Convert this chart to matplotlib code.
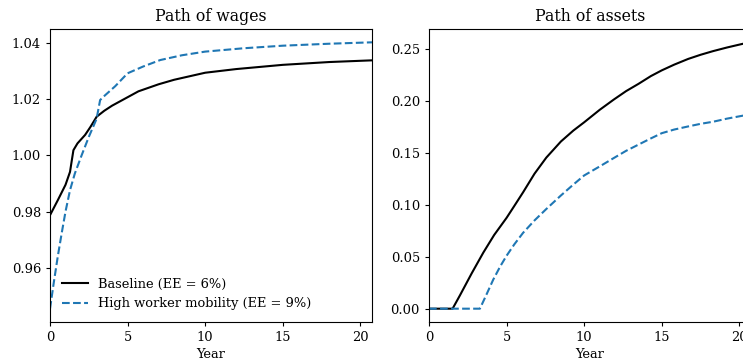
import matplotlib
matplotlib.use("Agg")
import matplotlib.pyplot as plt

plt.rcParams['font.family'] = 'DejaVu Serif'
plt.rcParams['font.size'] = 9.4
plt.rcParams['xtick.major.size'] = 3
plt.rcParams['ytick.major.size'] = 3

# Path of wages
wage_base_x = [0, 0.5, 1.0, 1.29, 1.4, 1.51, 1.77, 2.26, 2.6, 3.01, 3.5, 4.0, 4.5, 5.0, 5.7,
               7.0, 8.0, 10.0, 12.0, 15.0, 18.0, 20.75]
wage_base_y = [0.9787, 0.984, 0.9895, 0.9941, 0.998, 1.0018, 1.0042, 1.0072, 1.0100, 1.0137,
               1.0158, 1.0176, 1.0191, 1.0206, 1.0227, 1.0252, 1.0268, 1.0293, 1.0306,
               1.0321, 1.0331, 1.0337]
wage_high_x = [0, 0.25, 0.5, 0.75, 1.0, 1.29, 1.6, 2.04, 2.5, 3.0, 3.23, 3.55, 4.2, 5.0, 6.0,
               7.1, 8.5, 10.0, 12.5, 15.0, 18.0, 20.75]
wage_high_y = [0.9455, 0.955, 0.964, 0.9722, 0.9800, 0.9876, 0.9935, 1.0000, 1.0065, 1.0129,
               1.0196, 1.0213, 1.0245, 1.0291, 1.0315, 1.0338, 1.0355, 1.0368, 1.0380,
               1.0389, 1.0396, 1.0401]

# Path of assets
asset_base_x = [0, 1.52, 2.0, 2.75, 3.5, 4.2, 5.0, 5.5, 6.06, 6.8, 7.56, 8.5, 9.3, 10.0, 11.0,
                11.9, 12.7, 13.5, 14.3, 15.0, 15.8, 16.7, 17.5, 18.3, 19.2, 20.2, 20.75]
asset_base_y = [0.0, 0.0, 0.013, 0.034, 0.054, 0.071, 0.0875, 0.0990, 0.1120, 0.1300, 0.1455,
                0.1610, 0.1715, 0.1795, 0.1915, 0.2013, 0.2095, 0.2165, 0.2240, 0.2295,
                0.2350, 0.2405, 0.2445, 0.2480, 0.2515, 0.2550, 0.2565]
asset_high_x = [0, 3.28, 3.7, 4.14, 4.6, 5.0, 5.5, 6.06, 6.8, 7.56, 8.5, 9.3, 10.0, 11.0, 11.9,
                12.7, 13.5, 14.3, 15.0, 15.8, 16.7, 17.5, 18.3, 19.2, 20.2, 20.75]
asset_high_y = [0.0, 0.0, 0.0135, 0.0280, 0.0410, 0.0510, 0.0620, 0.0730, 0.0850, 0.0960,
                0.1090, 0.1195, 0.1283, 0.1370, 0.1450, 0.1520, 0.1580, 0.1640, 0.1690,
                0.1725, 0.1755, 0.1780, 0.1800, 0.1830, 0.1858, 0.1868]

labels = ['Baseline (EE = 6%)', 'High worker mobility (EE = 9%)']
blue = '#1f77b4'

fig = plt.figure(figsize=(7.43, 3.62), dpi=100)
ax1 = fig.add_axes([50 / 743, 40 / 362, 322 / 743, 293 / 362])
ax2 = fig.add_axes([429 / 743, 40 / 362, 322 / 743, 293 / 362])

ax1.plot(wage_base_x, wage_base_y, color='k', lw=1.5, label=labels[0])
ax1.plot(wage_high_x, wage_high_y, color=blue, lw=1.5, ls='--', label=labels[1])
ax1.set_title('Path of wages', fontsize=11.3)
ax1.set_xlabel('Year', labelpad=3)
ax1.set_xlim(0, 20.75)
ax1.set_xticks([0, 5, 10, 15, 20])
ax1.legend(loc='lower left', frameon=False)

ax2.plot(asset_base_x, asset_base_y, color='k', lw=1.5)
ax2.plot(asset_high_x, asset_high_y, color=blue, lw=1.5, ls='--')
ax2.set_title('Path of assets', fontsize=11.3)
ax2.set_xlabel('Year', labelpad=3)
ax2.set_xlim(0, 20.75)
ax2.set_xticks([0, 5, 10, 15, 20])

fig.savefig('out.png', dpi=100)
